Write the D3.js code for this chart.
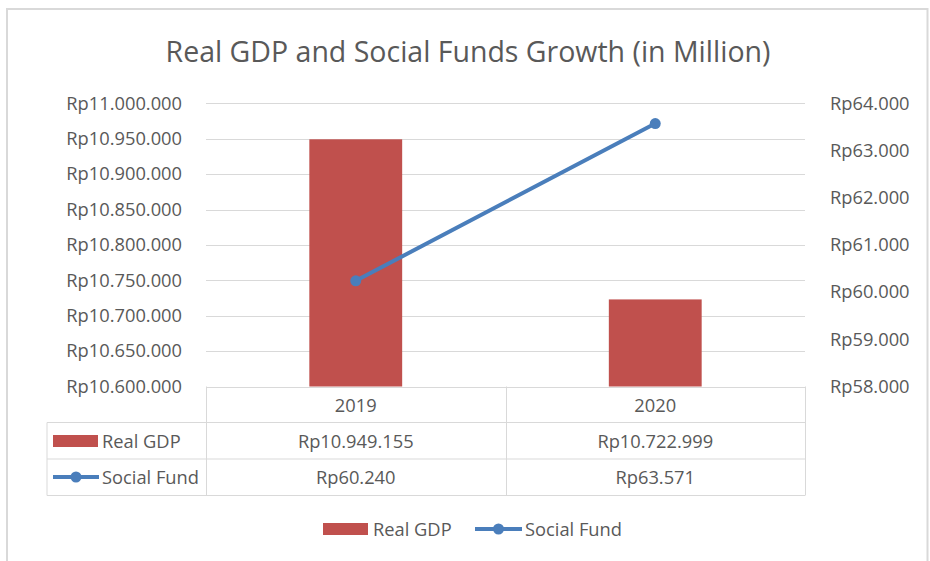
<!DOCTYPE html>
<html><head><meta charset="utf-8">
<script src="https://cdn.jsdelivr.net/npm/d3@7"></script>
<style>
html,body{margin:0;padding:0;background:#fff;}
svg text{font-family:"Open Sans",sans-serif;fill:#595959;}
</style></head>
<body>
<svg id="c" width="930" height="561"></svg>
<script>
const categories = ["2019", "2020"];
const realGDP = [10949155, 10722999];
const socialFund = [60240, 63571];
const leftTicks = [10600000, 10650000, 10700000, 10750000, 10800000, 10850000, 10900000, 10950000, 11000000];
const rightTicks = [58000, 59000, 60000, 61000, 62000, 63000, 64000];
const seriesNames = ["Real GDP", "Social Fund"];
const title = "Real GDP and Social Funds Growth (in Million)";

const barColor = "#c0504d", lineColor = "#4a7ebb", gridColor = "#d9d9d9";
const FS = "18.3px";
const loc = d3.formatLocale({decimal: ",", thousands: ".", grouping: [3], currency: ["Rp", ""]});
const fmt = loc.format("$,");

const svg = d3.select("#c");
const L = 206, R = 805, T = 103.3, B = 386.5;

// frame
svg.append("rect").attr("x", 7).attr("y", 9).attr("width", 920.5).attr("height", 560)
  .attr("fill", "#fff").attr("stroke", "#d9d9d9").attr("stroke-width", 2);

svg.append("text").attr("x", 468).attr("y", 62).attr("text-anchor", "middle")
  .style("font-size", "28.5px").text(title);

const x = d3.scaleBand().domain(categories).range([L, R]).paddingInner(0.69).paddingOuter(0.345);
const yL = d3.scaleLinear().domain([10600000, 11000000]).range([B, T]);
const yR = d3.scaleLinear().domain([58000, 64000]).range([B, T]);

// gridlines
svg.append("g").selectAll("line").data(leftTicks).join("line")
  .attr("x1", L).attr("x2", R)
  .attr("y1", d => Math.round(yL(d)) + 0.5).attr("y2", d => Math.round(yL(d)) + 0.5)
  .attr("stroke", gridColor).attr("stroke-width", 1);

// left axis
const axL = svg.append("g").attr("transform", `translate(${L},0)`)
  .call(d3.axisLeft(yL).tickValues(leftTicks).tickFormat(fmt).tickSize(0).tickPadding(24));
axL.select(".domain").remove();
axL.selectAll("text").style("font-size", FS).style("font-family", "Open Sans").attr("fill", "#595959");

// right axis
const axR = svg.append("g").attr("transform", `translate(${R},0)`)
  .call(d3.axisRight(yR).tickValues(rightTicks).tickFormat(fmt).tickSize(0).tickPadding(25));
axR.select(".domain").remove();
axR.selectAll("text").style("font-size", FS).style("font-family", "Open Sans").attr("fill", "#595959");

// bars
svg.append("g").selectAll("rect").data(categories).join("rect")
  .attr("x", d => x(d)).attr("width", x.bandwidth())
  .attr("y", (d, i) => yL(realGDP[i])).attr("height", (d, i) => B - yL(realGDP[i]))
  .attr("fill", barColor);

// line
const cx = d => x(d) + x.bandwidth() / 2;
const lineGen = d3.line().x((d, i) => cx(categories[i])).y(d => yR(d));
svg.append("path").datum(socialFund).attr("d", lineGen)
  .attr("fill", "none").attr("stroke", lineColor).attr("stroke-width", 4).attr("stroke-linecap", "round");
svg.append("g").selectAll("circle").data(socialFund).join("circle")
  .attr("cx", (d, i) => cx(categories[i])).attr("cy", d => yR(d)).attr("r", 5.5)
  .attr("fill", lineColor);

// data table
const rowY = [B, 422.5, 459, 495.5];
const tbl = svg.append("g").attr("stroke", gridColor).attr("stroke-width", 1).attr("fill", "none");
const colX = [L, x.step() + L, R];
tbl.append("line").attr("x1", 47).attr("x2", R).attr("y1", rowY[1]).attr("y2", rowY[1]);
tbl.append("line").attr("x1", 47).attr("x2", R).attr("y1", rowY[2]).attr("y2", rowY[2]);
tbl.append("line").attr("x1", 47).attr("x2", R).attr("y1", rowY[3]).attr("y2", rowY[3]);
tbl.append("line").attr("x1", 47).attr("x2", 47).attr("y1", rowY[1]).attr("y2", rowY[3]);
tbl.selectAll(".v").data(colX).join("line").attr("class", "v")
  .attr("x1", d => Math.round(d) + 0.5).attr("x2", d => Math.round(d) + 0.5)
  .attr("y1", B).attr("y2", rowY[3]);
tbl.append("line").attr("x1", L).attr("x2", R).attr("y1", Math.round(B) + 0.5).attr("y2", Math.round(B) + 0.5);

const tt = svg.append("g").style("font-size", FS).attr("text-anchor", "middle");
categories.forEach((c, i) => {
  tt.append("text").attr("x", cx(c)).attr("y", 411.5).text(c);
  tt.append("text").attr("x", cx(c)).attr("y", 447.5).text(fmt(realGDP[i]));
  tt.append("text").attr("x", cx(c)).attr("y", 483.5).text(fmt(socialFund[i]));
});
// table legend keys
svg.append("rect").attr("x", 53).attr("y", 435).attr("width", 45).attr("height", 12).attr("fill", barColor);
svg.append("line").attr("x1", 53).attr("x2", 99).attr("y1", 477).attr("y2", 477).attr("stroke", lineColor).attr("stroke-width", 4);
svg.append("circle").attr("cx", 76).attr("cy", 477).attr("r", 5.5).attr("fill", lineColor);
svg.append("text").attr("x", 102).attr("y", 447.5).style("font-size", FS).text(seriesNames[0]);
svg.append("text").attr("x", 102).attr("y", 483.5).style("font-size", FS).text(seriesNames[1]);

// bottom legend
svg.append("rect").attr("x", 323).attr("y", 523).attr("width", 45).attr("height", 12).attr("fill", barColor);
svg.append("text").attr("x", 373).attr("y", 535.5).style("font-size", FS).text(seriesNames[0]);
svg.append("line").attr("x1", 475).attr("x2", 522).attr("y1", 529).attr("y2", 529).attr("stroke", lineColor).attr("stroke-width", 4);
svg.append("circle").attr("cx", 498.5).attr("cy", 529).attr("r", 5.5).attr("fill", lineColor);
svg.append("text").attr("x", 525).attr("y", 535.5).style("font-size", FS).text(seriesNames[1]);
</script>
</body></html>
